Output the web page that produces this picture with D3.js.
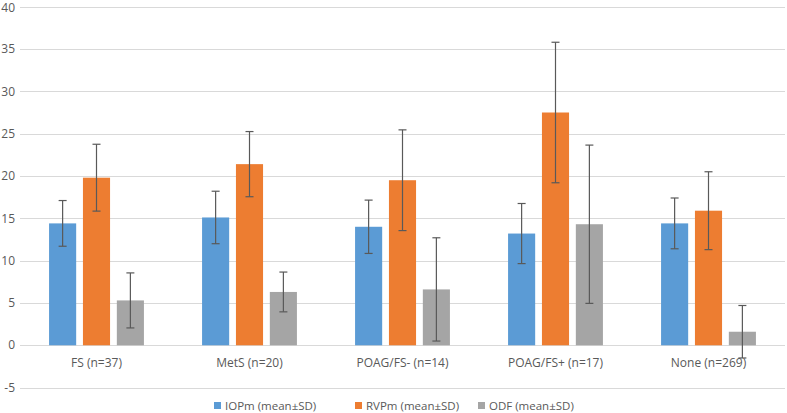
<!DOCTYPE html>
<html><head><meta charset="utf-8">
<script src="https://cdn.jsdelivr.net/npm/d3@7"></script>
<style>body{margin:0;background:#fff;} text{font-family:"Open Sans","DejaVu Sans",sans-serif;}</style>
</head><body><svg id="c" width="787" height="413"></svg>
<script>
const categories = ["FS (n=37)", "MetS (n=20)", "POAG/FS- (n=14)", "POAG/FS+ (n=17)", "None (n=269)"];
const seriesNames = ["IOPm (mean±SD)", "RVPm (mean±SD)", "ODF (mean±SD)"];
const iopMean = [14.4, 15.1, 14.0, 13.2, 14.4];
const iopSD   = [2.7, 3.1, 3.15, 3.55, 3.0];
const rvpMean = [19.8, 21.4, 19.5, 27.5, 15.9];
const rvpSD   = [3.95, 3.85, 5.95, 8.3, 4.6];
const odfMean = [5.3, 6.3, 6.6, 14.3, 1.6];
const odfSD   = [3.25, 2.35, 6.1, 9.35, 3.1];
const yTicks = [-5, 0, 5, 10, 15, 20, 25, 30, 35, 40];
const colors = ["#5B9BD5", "#ED7D31", "#A5A5A5"];

const series = [
  {name: seriesNames[0], mean: iopMean, sd: iopSD},
  {name: seriesNames[1], mean: rvpMean, sd: rvpSD},
  {name: seriesNames[2], mean: odfMean, sd: odfSD}
];

const svg = d3.select("#c");
const pLeft = 20, pRight = 785, pTop = 6.7, pBottom = 387.6;
const y = d3.scaleLinear().domain([-5, 40]).range([pBottom, pTop]);
const x0 = d3.scaleBand().domain(categories).range([pLeft, pRight]).paddingInner(0.38).paddingOuter(0.19);
const x1 = d3.scaleBand().domain(seriesNames).range([0, x0.bandwidth()]).paddingInner(0.2);

// gridlines
svg.append("g").selectAll("line").data(yTicks).join("line")
  .attr("x1", pLeft).attr("x2", pRight)
  .attr("y1", d => Math.round(y(d)) + 0.5).attr("y2", d => Math.round(y(d)) + 0.5)
  .attr("stroke", "#D9D9D9").attr("stroke-width", 1);

// y labels
svg.append("g").selectAll("text").data(yTicks).join("text")
  .attr("x", 15).attr("y", d => Math.max(y(d), 7.5)).attr("dy", "0.35em")
  .attr("text-anchor", "end").attr("font-size", 12).attr("fill", "#595959")
  .text(d => d);

// bars
const g = svg.append("g");
series.forEach((s, si) => {
  g.append("g").selectAll("rect").data(categories).join("rect")
    .attr("x", c => x0(c) + x1(s.name))
    .attr("width", x1.bandwidth())
    .attr("y", (c, i) => y(Math.max(0, s.mean[i])))
    .attr("height", (c, i) => Math.abs(y(s.mean[i]) - y(0)))
    .attr("fill", colors[si]);
});

// error bars
series.forEach((s, si) => {
  const eg = g.append("g").attr("stroke", "#595959").attr("stroke-width", 1.2);
  categories.forEach((c, i) => {
    const cx = x0(c) + x1(s.name) + x1.bandwidth() / 2;
    const hi = y(s.mean[i] + s.sd[i]), lo = y(s.mean[i] - s.sd[i]);
    eg.append("line").attr("x1", cx).attr("x2", cx).attr("y1", hi).attr("y2", lo);
    eg.append("line").attr("x1", cx - 4).attr("x2", cx + 4).attr("y1", hi).attr("y2", hi);
    eg.append("line").attr("x1", cx - 4).attr("x2", cx + 4).attr("y1", lo).attr("y2", lo);
  });
});

// x labels
svg.append("g").selectAll("text").data(categories).join("text")
  .attr("x", c => x0(c) + x0.bandwidth() / 2).attr("y", y(0) + 18)
  .attr("dy", "0.35em").attr("text-anchor", "middle")
  .attr("font-size", 12).attr("fill", "#595959").text(c => c);

// legend
const legendX = [214, 355, 478];
const lg = svg.append("g");
seriesNames.forEach((n, i) => {
  lg.append("rect").attr("x", legendX[i]).attr("y", 402).attr("width", 7).attr("height", 7).attr("fill", colors[i]);
  lg.append("text").attr("x", legendX[i] + 11).attr("y", 405.5).attr("dy", "0.35em")
    .attr("font-size", 11.5).attr("fill", "#595959").text(n);
});
</script></body></html>
